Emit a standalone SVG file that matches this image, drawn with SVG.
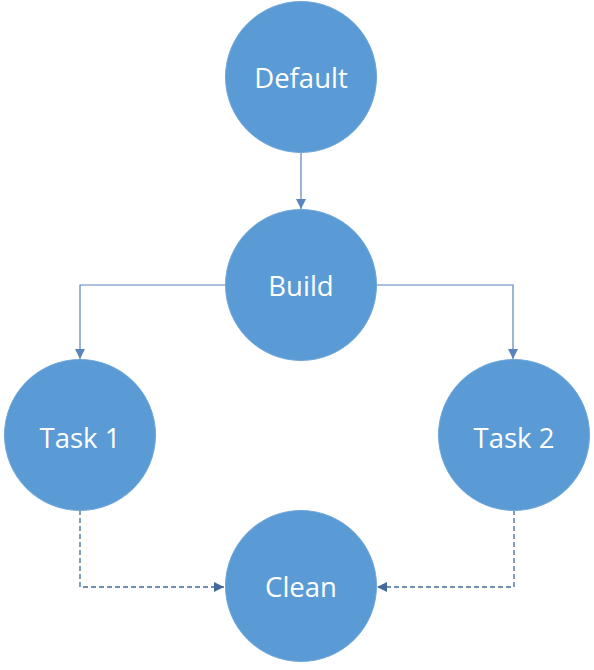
<svg xmlns="http://www.w3.org/2000/svg" width="594" height="670" viewBox="0 0 594 670">
<style>
.node circle{fill:#5b9bd5;stroke:#6fa6da;stroke-width:1}
.node text{fill:#ffffff;font-family:"Open Sans","Liberation Sans",sans-serif;font-size:27.5px;text-anchor:middle;dominant-baseline:central}
.solid{fill:none;stroke:#5a84bd;stroke-width:1.2}
.dashed{fill:none;stroke:#41699a;stroke-width:1.3;stroke-dasharray:5 3}
</style>
<defs>
<marker id="a1" viewBox="0 0 10 10" refX="10" refY="5" markerWidth="10" markerHeight="10" markerUnits="userSpaceOnUse" orient="auto"><path d="M0,0 L10,5 L0,10 z" fill="#5a84bd"/></marker>
<marker id="a2" viewBox="0 0 10 10" refX="10" refY="5" markerWidth="10" markerHeight="10" markerUnits="userSpaceOnUse" orient="auto"><path d="M0,0 L10,5 L0,10 z" fill="#41699a"/></marker>
</defs>
<rect width="594" height="670" fill="#ffffff"/>
<g id="connectors">
<path class="solid" d="M301,152 V209" marker-end="url(#a1)"/>
<path class="solid" d="M226,285 H80 V359" marker-end="url(#a1)"/>
<path class="solid" d="M376,285 H513 V359" marker-end="url(#a1)"/>
<path class="dashed" d="M80,510 V587 H224" marker-end="url(#a2)"/>
<path class="dashed" d="M514,510 V587 H377" marker-end="url(#a2)"/>
</g>
<g id="default" class="node"><circle cx="301" cy="77" r="75.5"/><text x="301" y="77">Default</text></g>
<g id="build" class="node"><circle cx="301" cy="285" r="75.5"/><text x="301" y="285">Build</text></g>
<g id="task1" class="node"><circle cx="80" cy="435" r="75.5"/><text x="80" y="437">Task 1</text></g>
<g id="task2" class="node"><circle cx="514" cy="435" r="75.5"/><text x="514" y="437">Task 2</text></g>
<g id="clean" class="node"><circle cx="301" cy="586" r="75.5"/><text x="301" y="586">Clean</text></g>
</svg>
